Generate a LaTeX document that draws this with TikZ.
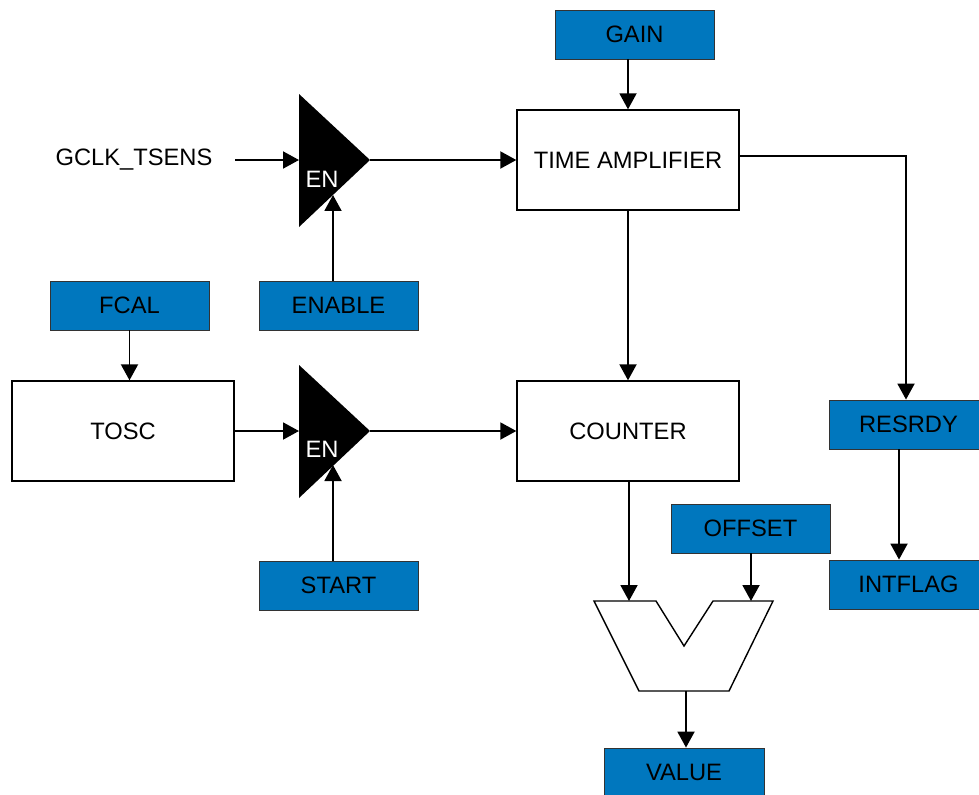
\documentclass[tikz,border=0pt]{standalone}
\usepackage{fontspec}
\setmainfont{Liberation Sans}
\usetikzlibrary{arrows.meta}
\definecolor{regblue}{RGB}{0,119,190}
\begin{document}
\begin{tikzpicture}[x=0.02cm,y=-0.02cm]
\tikzset{
  regbox/.style={rectangle,draw=black!80,fill=regblue,line width=0.5pt,minimum width=3.18cm,minimum height=0.98cm,inner sep=0pt,font=\fontsize{13.5}{16}\selectfont},
  blockbox/.style={rectangle,draw=black,fill=white,line width=0.8pt,minimum width=4.44cm,minimum height=2cm,inner sep=0pt,font=\fontsize{13.5}{16}\selectfont},
  plain/.style={inner sep=0pt,font=\fontsize{13.5}{16}\selectfont},
  enlabel/.style={inner sep=0pt,text=white,font=\fontsize{13.5}{16}\selectfont},
  sig/.style={-{Triangle[length=0.32cm,width=0.34cm]},line width=1.1pt},
  wire/.style={line width=1.1pt}
}
\useasboundingbox (0,0) rectangle (979,794);
% blocks
\node[regbox] (n_gain) at (634.5,34.5) {GAIN};
\node[blockbox] (n_tamp) at (628,160) {TIME AMPLIFIER};
\node[plain] (n_gclk) at (134,160) {GCLK\_TSENS};
\node[regbox] (n_enable) at (338.5,305.5) {ENABLE};
\node[regbox] (n_fcal) at (129.5,305.5) {FCAL};
\node[blockbox] (n_tosc) at (123,431) {TOSC};
\node[blockbox] (n_counter) at (628,431) {COUNTER};
\node[regbox] (n_start) at (338.5,585.5) {START};
\node[regbox] (n_resrdy) at (908.5,424.5) {RESRDY};
\node[regbox] (n_intflag) at (908.5,584.5) {INTFLAG};
\node[regbox] (n_offset) at (750.5,528.5) {OFFSET};
\node[regbox,minimum width=3.2cm] (n_value) at (684,772.5) {VALUE};
% gates
\fill (299,94) -- (370,160) -- (299,227) -- cycle;
\fill (299,365) -- (370,431) -- (299,498) -- cycle;
\node[enlabel] (n_en1) at (322,179) {EN};
\node[enlabel] (n_en2) at (322,449) {EN};
\coordinate (g1_in) at (299,160);
\coordinate (g1_out) at (370,160);
\coordinate (g1_en) at (333,195);
\coordinate (g2_in) at (299,431);
\coordinate (g2_out) at (370,431);
\coordinate (g2_en) at (333,465);
\coordinate (clk_src) at (235,160);
% subtractor
\draw[fill=white,line width=0.8pt] (594,601) -- (656,601) -- (684,646) -- (713,601) -- (773,601) -- (729,691) -- (639,691) -- cycle;
\coordinate (sub_a) at (629,601);
\coordinate (sub_b) at (751,601);
\coordinate (sub_out) at (686,691);
\coordinate (rdy_turn) at (906,156);
% connectors
\draw[sig] (clk_src) -- (g1_in);
\draw[sig] (n_enable.north -| g1_en) -- (g1_en);
\draw[sig] (g1_out) -- (n_tamp.west);
\draw[sig] (n_gain.south -| n_tamp.north) -- (n_tamp.north);
\draw[sig] (n_fcal.south) -- (n_fcal.south |- n_tosc.north);
\draw[sig] (n_tosc.east) -- (g2_in);
\draw[sig] (n_start.north -| g2_en) -- (g2_en);
\draw[sig] (g2_out) -- (n_counter.west);
\draw[sig] (n_tamp.south) -- (n_counter.north);
\draw[sig] (n_tamp.east |- rdy_turn) -- (rdy_turn) -- (n_resrdy.north -| rdy_turn);
\draw[sig] ([xshift=-0.19cm]n_resrdy.south) -- ([xshift=-0.19cm]n_intflag.north);
\draw[sig] (n_counter.south -| sub_a) -- (sub_a);
\draw[sig] (n_offset.south -| sub_b) -- (sub_b);
\draw[sig] (sub_out) -- (n_value.north -| sub_out);
\end{tikzpicture}
\end{document}
